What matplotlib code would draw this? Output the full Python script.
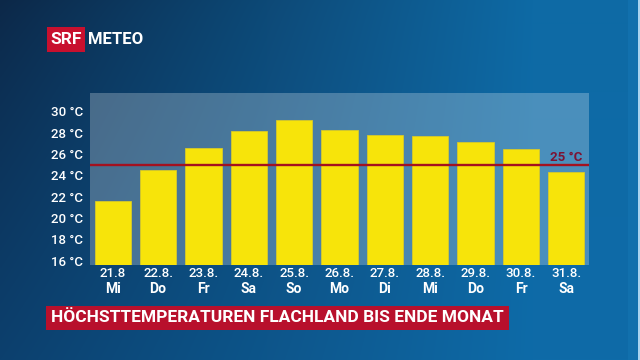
import numpy as np
import matplotlib
matplotlib.use("Agg")
import matplotlib.pyplot as plt
from matplotlib.patches import Rectangle

# --- data ---
dates = ["21.8", "22.8.", "23.8.", "24.8.", "25.8.", "26.8.",
         "27.8.", "28.8.", "29.8.", "30.8.", "31.8."]
weekdays = ["Mi", "Do", "Fr", "Sa", "So", "Mo", "Di", "Mi", "Do", "Fr", "Sa"]
tmax = [21.6, 24.5, 26.6, 28.2, 29.2, 28.3, 27.8, 27.7, 27.1, 26.5, 24.3]
threshold = 25
yticks = [16, 18, 20, 22, 24, 26, 28, 30]
title = "HÖCHSTTEMPERATUREN FLACHLAND BIS ENDE MONAT"

W, H = 640, 360
FONT = "Roboto"
RED = "#b8102c"

fig = plt.figure(figsize=(W / 100, H / 100), dpi=100)

# background gradient (dark navy top-left -> blue right)
bg = fig.add_axes([0, 0, 1, 1], zorder=-5)
gx, gy = np.meshgrid(np.linspace(0, 1, 320), np.linspace(0, 1, 180))
tl = np.array([12, 40, 72]) / 255
tr = np.array([14, 106, 165]) / 255
bl = np.array([12, 64, 110]) / 255
br = np.array([14, 107, 168]) / 255
sx = np.clip(gx * 1.2, 0, 1)[..., None]
sy = gy[..., None] ** 0.8
img = (tl * (1 - sx) + tr * sx) * (1 - sy) + (bl * (1 - sx) + br * sx) * sy
bg.imshow(img, aspect="auto", extent=[0, W, H, 0], interpolation="bilinear")
bg.add_patch(Rectangle((628, 0), 10, H, color="#1170ad", lw=0))
bg.add_patch(Rectangle((638, 0), 2, H, color="#a8d4f0", lw=0))
bg.set_xlim(0, W)
bg.set_ylim(H, 0)
bg.axis("off")

# chart panel
left, right, top, bottom = 90, 589, 93, 265
ax = fig.add_axes([left / W, 1 - bottom / H, (right - left) / W, (bottom - top) / H])
ax.patch.set_facecolor("white")
ax.patch.set_alpha(0.25)

x = np.arange(len(tmax))
ax.bar(x, np.array(tmax) - 15.58, bottom=15.58, width=0.8,
       color="#f7e40a", edgecolor="#d6c92a", linewidth=0.6, zorder=2)
ax.axhline(threshold, color="#a3111f", lw=1.7, zorder=3)
ax.annotate(f"{threshold} °C", xy=(1, threshold), xycoords=("axes fraction", "data"),
            xytext=(-5, 5.5), textcoords="offset points", ha="right", va="center",
            color="#7c1434", fontsize=9.5, fontweight="bold", family=FONT)

ax.set_xlim(-0.5, len(tmax) - 0.5)
ax.set_ylim(15.58, 31.73)
ax.set_yticks(yticks)
ax.set_yticklabels([f"{v} °C" for v in yticks], color="white", fontsize=9.5,
                   fontweight="medium", family=FONT)
ax.tick_params(axis="y", length=0, pad=5)
ax.set_xticks([])
for s in ax.spines.values():
    s.set_visible(False)

for i, (d, wd) in enumerate(zip(dates, weekdays)):
    ax.annotate(d, xy=(i, 0), xycoords=("data", "axes fraction"), xytext=(0, -6),
                textcoords="offset points", ha="center", va="center",
                color="white", fontsize=9.5, fontweight="medium", family=FONT)
    ax.annotate(wd, xy=(i, 0), xycoords=("data", "axes fraction"), xytext=(0, -17),
                textcoords="offset points", ha="center", va="center",
                color="white", fontsize=10, fontweight="bold", family=FONT)

# logo
fig.patches.append(Rectangle((47 / W, 1 - 52 / H), 38 / W, 25 / H,
                             transform=fig.transFigure, color="#c8102e", lw=0))
fig.text(66 / W, 1 - 40 / H, "SRF", color="white", fontsize=12.5, fontweight="bold",
         family=FONT, ha="center", va="center")
fig.text(88 / W, 1 - 40 / H, "METEO", color="white", fontsize=12, fontweight="bold",
         family=FONT, ha="left", va="center")

# title banner
fig.patches.append(Rectangle((46 / W, 1 - 330 / H), 463 / W, 24 / H,
                             transform=fig.transFigure, color=RED, lw=0))
t = fig.text(277.5 / W, 1 - 317.7 / H, title, color="white", fontsize=12,
             fontweight="bold", family=FONT, ha="center", va="center")
fig.canvas.draw()
w = t.get_window_extent().width
t.set_fontsize(12 * 453 / w)

fig.savefig("out.png", dpi=100)
